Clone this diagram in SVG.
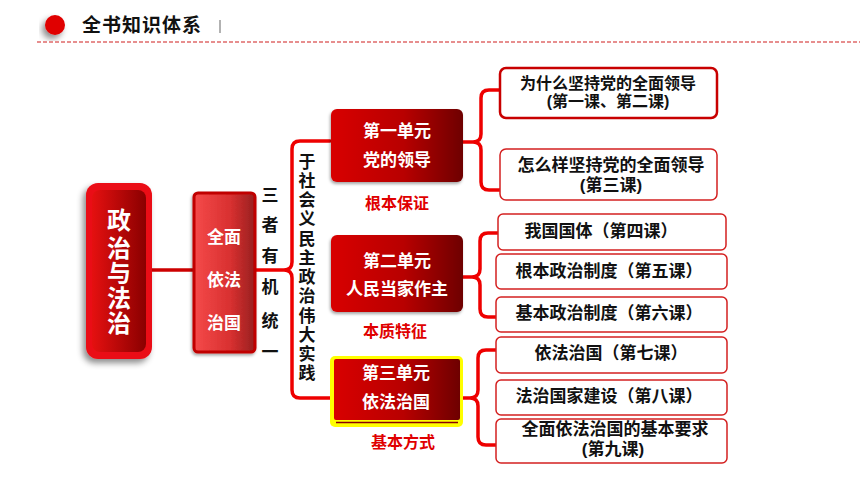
<svg xmlns="http://www.w3.org/2000/svg" width="860" height="484" viewBox="0 0 860 484">
<defs>
<linearGradient id="gUnit" x1="0" y1="0" x2="1" y2="0"><stop offset="0" stop-color="#d80000"/><stop offset="0.55" stop-color="#b80000"/><stop offset="1" stop-color="#6e0000"/></linearGradient>
<linearGradient id="gMain" x1="0" y1="0" x2="1" y2="0"><stop offset="0" stop-color="#e51010"/><stop offset="1" stop-color="#8a0000"/></linearGradient>
<linearGradient id="gQm" x1="0" y1="0" x2="1" y2="0"><stop offset="0" stop-color="#f54a4a"/><stop offset="0.6" stop-color="#d83030"/><stop offset="1" stop-color="#982020"/></linearGradient>
<filter id="sh" x="-30%" y="-30%" width="160%" height="160%"><feDropShadow dx="-3" dy="4" stdDeviation="3" flood-color="#000" flood-opacity="0.45"/></filter>
<filter id="sh2" x="-30%" y="-30%" width="160%" height="160%"><feDropShadow dx="-1" dy="2" stdDeviation="1.5" flood-color="#000" flood-opacity="0.35"/></filter>
<style>
.cjk{font-family:"Liberation Sans","Noto Sans CJK SC",sans-serif;font-weight:bold}
.w{fill:#fff}
.k{fill:#111}
.r{fill:#e00000}
.lesson{fill:#fff;stroke:#d42020;stroke-width:1.5}
.br{fill:none;stroke:#ee0000;stroke-width:3.5;stroke-linejoin:round;stroke-linecap:round}
.unit{fill:url(#gUnit)}
</style>
</defs>
<rect width="860" height="484" fill="#fff"/>
<!-- header -->
<g id="header">
<circle cx="55" cy="25" r="10" fill="#e00000" filter="url(#sh)"/>
<text class="cjk k" x="82" y="25" font-size="19" letter-spacing="1" dominant-baseline="central">全书知识体系</text>
<line x1="220" y1="20" x2="220" y2="33" stroke="#999" stroke-width="1.5"/>
<line x1="37" y1="42" x2="860" y2="42" stroke="#e06a6a" stroke-width="1.5" stroke-dasharray="4 2"/>
</g>
<!-- connectors -->
<g id="connectors">
<line x1="152" y1="270" x2="193" y2="270" stroke="#cc0000" stroke-width="3.5"/>
<path class="br" d="M330,141 H300 Q292,141 292,149 V262 Q292,270 284,270 H255 M284,270 Q292,270 292,278 V390 Q292,398 300,398 H330"/>
<path class="br" d="M500,90 H489 Q481,90 481,98 V134 Q481,142 473,142 H463 M473,142 Q481,142 481,150 V182 Q481,190 489,190 H500"/>
<path class="br" d="M498,233 H488 Q480,233 480,241 V269 Q480,277 472,277 H463 M472,277 Q480,277 480,285 V309 Q480,317 488,317 H496"/>
<path class="br" d="M496,350 H486 Q478,350 478,358 V390 Q478,398 470,398 H463 M470,398 Q478,398 478,406 V437 Q478,445 486,445 H496"/>
</g>
<!-- main node -->
<g id="n-main">
<rect x="86" y="183" width="66" height="176" rx="12" fill="#ea0a14" filter="url(#sh)"/>
<rect x="92" y="190" width="54" height="162" rx="8" fill="url(#gMain)"/>
<g class="cjk w" font-size="24" text-anchor="middle" dominant-baseline="central">
<text x="119" y="220">政</text><text x="119" y="248">治</text><text x="119" y="273">与</text><text x="119" y="298">法</text><text x="119" y="323">治</text>
</g>
</g>
<g id="n-qm">
<rect x="194" y="193" width="61" height="159" rx="4" fill="url(#gQm)" stroke="#c00000" stroke-width="3" filter="url(#sh2)"/>
<g class="cjk w" font-size="17" text-anchor="middle" dominant-baseline="central">
<text x="224" y="237">全面</text><text x="224" y="280">依法</text><text x="224" y="323">治国</text>
</g>
</g>
<g id="n-sanzhe" class="cjk k" font-size="17" text-anchor="middle" dominant-baseline="central">
<text x="270" y="195">三</text><text x="270" y="225">者</text><text x="270" y="256">有</text><text x="270" y="287">机</text><text x="270" y="321">统</text><text x="270" y="352">一</text>
</g>
<g id="n-yu" class="cjk k" font-size="17" text-anchor="middle" dominant-baseline="central">
<text x="307" y="162">于</text><text x="307" y="181">社</text><text x="307" y="200">会</text><text x="307" y="219">义</text><text x="307" y="239">民</text><text x="307" y="258">主</text><text x="307" y="277">政</text><text x="307" y="296">治</text><text x="307" y="316">伟</text><text x="307" y="335">大</text><text x="307" y="354">实</text><text x="307" y="373">践</text>
</g>
<!-- units -->
<g id="n-unit1">
<rect class="unit" x="331" y="109" width="132" height="73" rx="6" filter="url(#sh2)"/>
<g class="cjk w" font-size="17" text-anchor="middle" dominant-baseline="central"><text x="397" y="131">第一单元</text><text x="397" y="160">党的领导</text></g>
<text class="cjk r" x="397" y="203" font-size="16" text-anchor="middle" dominant-baseline="central">根本保证</text>
</g>
<g id="n-unit2">
<rect class="unit" x="331" y="235" width="132" height="77" rx="6" filter="url(#sh2)"/>
<g class="cjk w" font-size="17" text-anchor="middle" dominant-baseline="central"><text x="397" y="261">第二单元</text><text x="397" y="289">人民当家作主</text></g>
<text class="cjk r" x="395" y="331" font-size="16" text-anchor="middle" dominant-baseline="central">本质特征</text>
</g>
<g id="n-unit3">
<rect x="330" y="356" width="133" height="71" rx="5" fill="#ffff00"/>
<rect class="unit" x="334" y="359" width="126" height="61" rx="2"/>
<line x1="336" y1="422.5" x2="458" y2="422.5" stroke="#8a0000" stroke-width="1.5"/>
<g class="cjk w" font-size="17" text-anchor="middle" dominant-baseline="central"><text x="396" y="373">第三单元</text><text x="396" y="402">依法治国</text></g>
<text class="cjk r" x="403" y="442" font-size="16" text-anchor="middle" dominant-baseline="central">基本方式</text>
</g>
<!-- lessons -->
<g id="n-l1">
<rect x="500" y="68" width="217" height="50" rx="6" fill="#fff" stroke="#c80000" stroke-width="2.5"/>
<g class="cjk k" font-size="16" text-anchor="middle" dominant-baseline="central"><text x="608" y="83">为什么坚持党的全面领导</text><text x="608" y="101">(第一课、第二课)</text></g>
</g>
<g id="n-l2">
<rect class="lesson" x="500" y="149" width="217" height="51" rx="6"/>
<g class="cjk k" font-size="17" text-anchor="middle" dominant-baseline="central"><text x="611" y="165.5">怎么样坚持党的全面领导</text><text x="611" y="185.5">(第三课)</text></g>
</g>
<g id="n-l3">
<rect class="lesson" x="498" y="214" width="228" height="36" rx="5"/>
<text class="cjk k" x="601" y="231" font-size="17" text-anchor="middle" dominant-baseline="central">我国国体（第四课）</text>
</g>
<g id="n-l4">
<rect class="lesson" x="496" y="254" width="231" height="35" rx="5"/>
<text class="cjk k" x="609" y="271" font-size="17" text-anchor="middle" dominant-baseline="central">根本政治制度（第五课）</text>
</g>
<g id="n-l5">
<rect class="lesson" x="496" y="297" width="231" height="35" rx="5"/>
<text class="cjk k" x="609" y="313" font-size="17" text-anchor="middle" dominant-baseline="central">基本政治制度（第六课）</text>
</g>
<g id="n-l6">
<rect class="lesson" x="496" y="337" width="231" height="36" rx="5"/>
<text class="cjk k" x="611" y="353" font-size="17" text-anchor="middle" dominant-baseline="central">依法治国（第七课）</text>
</g>
<g id="n-l7">
<rect class="lesson" x="496" y="380" width="231" height="35" rx="5"/>
<text class="cjk k" x="609" y="396" font-size="17" text-anchor="middle" dominant-baseline="central">法治国家建设（第八课）</text>
</g>
<g id="n-l8">
<rect class="lesson" x="496" y="419" width="231" height="44" rx="5"/>
<g class="cjk k" font-size="17" text-anchor="middle" dominant-baseline="central"><text x="615" y="429">全面依法治国的基本要求</text><text x="613" y="449">(第九课)</text></g>
</g>
</svg>
